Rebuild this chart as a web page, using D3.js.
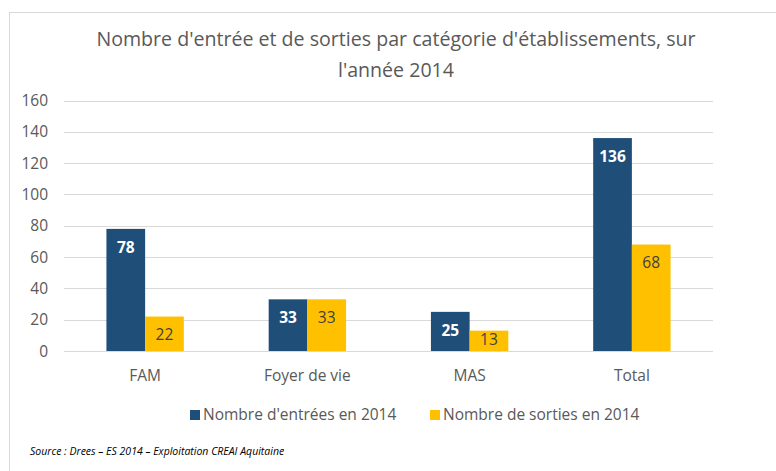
<!DOCTYPE html>
<html>
<head>
<meta charset="utf-8">
<script src="https://cdn.jsdelivr.net/npm/d3@7"></script>
<style>
  body { margin: 0; background: #fff; }
  text { font-family: "Open Sans", "Noto Sans", sans-serif; }
</style>
</head>
<body>
<svg id="chart" width="776" height="471"></svg>
<script>
let categories = ["FAM", "Foyer de vie", "MAS", "Total"];
let entrees = [78, 33, 25, 136];
let sorties = [22, 33, 13, 68];
let series_names = ["Nombre d'entrées en 2014", "Nombre de sorties en 2014"];
let y_ticks = [0, 20, 40, 60, 80, 100, 120, 140, 160];

let blue = "#1f4e79";
let yellow = "#ffc000";
let text_grey = "#595959";
let grid_grey = "#d9d9d9";

function draw_chart() {
    let svg = d3.select("#chart");

    // chart frame (only left and top edges are visible in the crop)
    svg.append("rect")
        .attr("x", 9.5).attr("y", 12.5)
        .attr("width", 900).attr("height", 600)
        .attr("fill", "none")
        .attr("stroke", grid_grey);

    svg.append("text")
        .attr("x", 396).attr("y", 46)
        .attr("text-anchor", "middle")
        .attr("fill", text_grey)
        .style("font-size", "19.6px")
        .text("Nombre d'entrée et de sorties par catégorie d'établissements, sur");
    svg.append("text")
        .attr("x", 396).attr("y", 77)
        .attr("text-anchor", "middle")
        .attr("fill", text_grey)
        .style("font-size", "19.6px")
        .text("l'année 2014");

    let x = d3.scaleBand().domain(categories).range([64, 713]);
    let y = d3.scaleLinear().domain([0, 160]).range([351, 100.5]);
    let bar_w = 38.7;

    // gridlines
    svg.append("g")
        .selectAll("line")
        .data(y_ticks)
        .enter().append("line")
        .attr("x1", 64).attr("x2", 713)
        .attr("y1", function (d) { return Math.round(y(d)) + 0.5; })
        .attr("y2", function (d) { return Math.round(y(d)) + 0.5; })
        .attr("stroke", grid_grey)
        .attr("stroke-width", 1);

    // y axis labels
    svg.append("g")
        .selectAll("text")
        .data(y_ticks)
        .enter().append("text")
        .attr("x", 48)
        .attr("y", function (d) { return y(d) + 5.5; })
        .attr("text-anchor", "end")
        .attr("fill", text_grey)
        .style("font-size", "15.5px")
        .text(function (d) { return d; });

    // x axis labels
    svg.append("g")
        .selectAll("text")
        .data(categories)
        .enter().append("text")
        .attr("x", function (d) { return x(d) + x.bandwidth() / 2; })
        .attr("y", 381)
        .attr("text-anchor", "middle")
        .attr("fill", text_grey)
        .style("font-size", "15.5px")
        .text(function (d) { return d; });

    let rows = categories.map(function (c, i) {
        return {cat: c, a: entrees[i], b: sorties[i]};
    });

    let groups = svg.append("g")
        .selectAll("g")
        .data(rows)
        .enter().append("g")
        .attr("transform", function (d) {
            return "translate(" + (x(d.cat) + x.bandwidth() / 2) + ",0)";
        });

    groups.append("rect")
        .attr("x", -bar_w).attr("width", bar_w)
        .attr("y", function (d) { return y(d.a); })
        .attr("height", function (d) { return y(0) - y(d.a); })
        .attr("fill", blue);

    groups.append("rect")
        .attr("x", 0).attr("width", bar_w)
        .attr("y", function (d) { return y(d.b); })
        .attr("height", function (d) { return y(0) - y(d.b); })
        .attr("fill", yellow);

    // inside-end label, pushed up when the bar is too short
    function label_y(v) {
        return Math.min(y(v) + 18.3, y(0) - 11.5) + 5.5;
    }

    groups.append("text")
        .attr("x", -bar_w / 2)
        .attr("y", function (d) { return label_y(d.a); })
        .attr("text-anchor", "middle")
        .attr("fill", "#fff")
        .style("font-size", "15.5px")
        .style("font-weight", "bold")
        .text(function (d) { return d.a; });

    groups.append("text")
        .attr("x", bar_w / 2)
        .attr("y", function (d) { return label_y(d.b); })
        .attr("text-anchor", "middle")
        .attr("fill", "#404040")
        .style("font-size", "15.5px")
        .text(function (d) { return d.b; });

    // legend
    let legend_x = [190, 430];
    let legend_colors = [blue, yellow];
    let legend = svg.append("g")
        .selectAll("g")
        .data(series_names)
        .enter().append("g")
        .attr("transform", function (d, i) { return "translate(" + legend_x[i] + ",410)"; });
    legend.append("rect")
        .attr("width", 10).attr("height", 10)
        .attr("fill", function (d, i) { return legend_colors[i]; });
    legend.append("text")
        .attr("x", 13).attr("y", 10)
        .attr("fill", text_grey)
        .style("font-size", "15.5px")
        .text(function (d) { return d; });

    svg.append("text")
        .attr("x", 30).attr("y", 455)
        .attr("fill", "#000")
        .style("font-size", "10.5px")
        .style("font-style", "italic")
        .text("Source : Drees – ES 2014 – Exploitation CREAI Aquitaine");
}

draw_chart();
</script>
</body>
</html>
